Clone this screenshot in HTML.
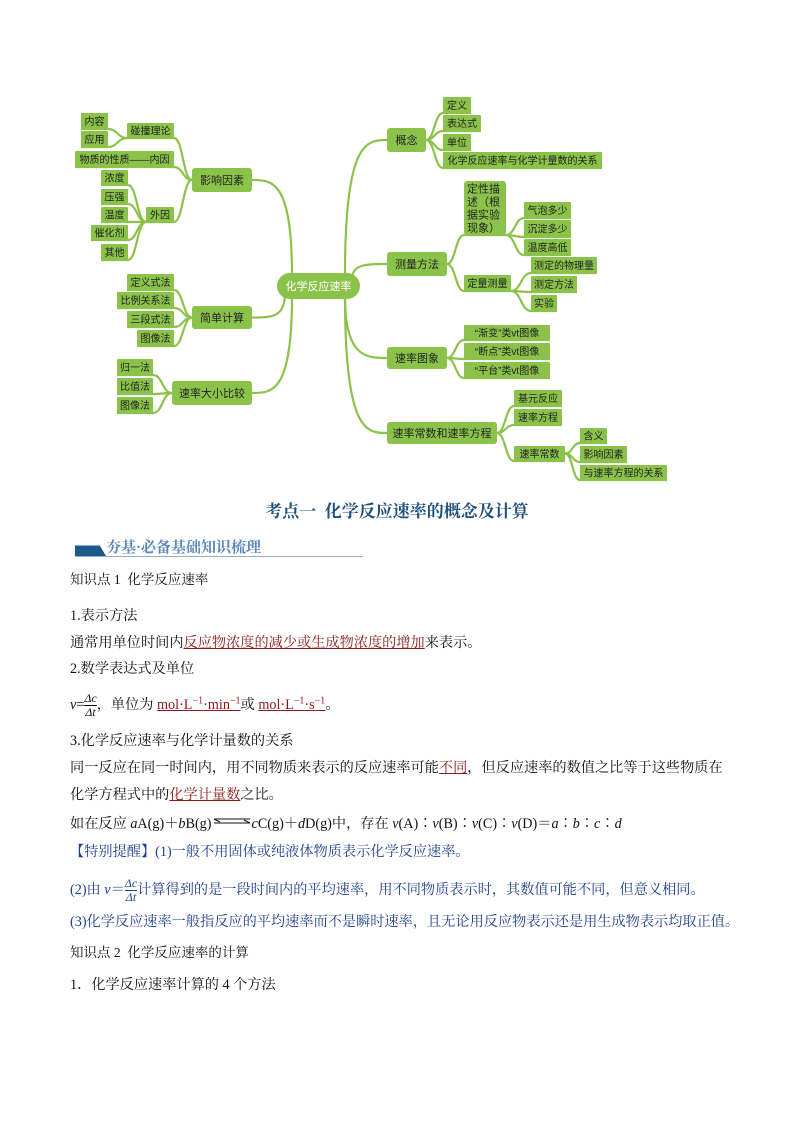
<!DOCTYPE html>
<html><head><meta charset="utf-8">
<style>
body{margin:0;background:#fff;}
#p{position:relative;width:794px;height:1123px;overflow:hidden;font-family:"Liberation Serif","Noto Serif CJK SC","Noto Sans CJK SC",serif;color:#111;}
svg{position:absolute;left:0;top:0;}
.t{position:absolute;left:70px;font-size:14.2px;white-space:nowrap;line-height:18px;}
.u{color:#8b1a1a;text-decoration:underline;}
.b{color:#1f3f8f;}
i{font-style:italic;}
sup{line-height:0;font-size:10px;}
.fr{display:inline-block;vertical-align:middle;text-align:center;font-style:italic;font-size:12px;line-height:13px;}
.fr span{display:block;}
.fr span:first-child{border-bottom:1px solid currentColor;}
</style></head><body><div id="p">
<svg id="mm" width="794" height="500" xmlns="http://www.w3.org/2000/svg"></svg>
<div style="position:absolute;left:0;width:794px;top:497px;text-align:center;font-size:17px;font-weight:bold;color:#1d4f7c;font-family:'Liberation Serif','Noto Serif CJK SC',serif;">考点一&nbsp; 化学反应速率的概念及计算</div>
<div style="position:absolute;left:75px;top:541px;width:31px;height:15px;background:#1d5a8c;clip-path:polygon(0 30%,80% 30%,100% 100%,0 100%);"></div>
<div style="position:absolute;left:106px;top:536px;font-size:15px;font-weight:bold;color:#5b86b8;font-family:'Noto Serif CJK SC',serif;">夯基·必备基础知识梳理</div>
<div style="position:absolute;left:75px;top:556px;width:288px;height:1px;background:#8fb0d0;"></div>
<div class="t" style="top:571px;font-size:13.5px">知识点 1&nbsp; 化学反应速率</div>
<div class="t" style="top:607px">1.表示方法</div>
<div class="t" style="top:634px">通常用单位时间内<span class="u">反应物浓度的减少或生成物浓度的增加</span>来表示。</div>
<div class="t" style="top:660px">2.数学表达式及单位</div>
<div class="t" style="top:692px"><i>v</i>=<span class="fr"><span>Δc</span><span>Δt</span></span>，单位为 <span class="u">mol·L<sup>−1</sup>·min<sup>−1</sup></span>或 <span class="u">mol·L<sup>−1</sup>·s<sup>−1</sup></span>。</div>
<div class="t" style="top:732px">3.化学反应速率与化学计量数的关系</div>
<div class="t" style="top:759px">同一反应在同一时间内，用不同物质来表示的反应速率可能<span class="u">不同</span>，但反应速率的数值之比等于这些物质在</div>
<div class="t" style="top:786px">化学方程式中的<span class="u">化学计量数</span>之比。</div>
<div class="t" style="top:815px">如在反应 <i>a</i>A(g)＋<i>b</i>B(g)<span style="display:inline-block;width:40px;position:relative;top:-3px;"><svg width="40" height="8" style="position:static"><path d="M2 2 H38 M2 6 H38 M38 6 L32 3 M2 2 L8 5" stroke="#111" fill="none" stroke-width="1"/></svg></span><i>c</i>C(g)＋<i>d</i>D(g)中，存在 <i>v</i>(A)∶<i>v</i>(B)∶<i>v</i>(C)∶<i>v</i>(D)＝<i>a</i>∶<i>b</i>∶<i>c</i>∶<i>d</i></div>
<div class="t b" style="top:843px">【特别提醒】(1)一般不用固体或纯液体物质表示化学反应速率。</div>
<div class="t b" style="top:877px">(2)由 <i>v</i>＝<span class="fr"><span>Δc</span><span>Δt</span></span>计算得到的是一段时间内的平均速率，用不同物质表示时，其数值可能不同，但意义相同。</div>
<div class="t b" style="top:913px">(3)化学反应速率一般指反应的平均速率而不是瞬时速率，且无论用反应物表示还是用生成物表示均取正值。</div>
<div class="t" style="top:944px;font-size:13.5px">知识点 2&nbsp; 化学反应速率的计算</div>
<div class="t" style="top:976px">1．化学反应速率计算的 4 个方法</div>
</div>
<script>
var N={
c:[277,273,360,299,"化学反应速率"],
gn:[387,128,426,152,"概念"],cl:[387,252,447,276,"测量方法"],tx:[387,347,447,369,"速率图象"],cs:[387,422,497,444,"速率常数和速率方程"],
dy:[443,97,471,113,"定义"],bd:[443,115,481,131,"表达式"],dw:[443,134,471,150,"单位"],gx:[443,152,602,168,"化学反应速率与化学计量数的关系"],
dx:[464,181,506,235,"定性描\n述（根\n据实验\n现象）"],dl:[464,275,511,291,"定量测量"],
qp:[524,202,571,218,"气泡多少"],cd:[524,220,571,237,"沉淀多少"],wd:[524,239,571,255,"温度高低"],
wl:[531,257,597,273,"测定的物理量"],ff:[531,276,577,292,"测定方法"],sy:[531,295,557,311,"实验"],
v1:[464,325,550,340,"“渐变”类vt图像"],v2:[464,343,550,359,"“断点”类vt图像"],v3:[464,362,550,378,"“平台”类vt图像"],
jy:[514,390,562,406,"基元反应"],fc:[514,409,562,425,"速率方程"],cs2:[514,446,565,461,"速率常数"],
hy:[580,428,607,443,"含义"],yx:[580,446,627,462,"影响因素"],gx2:[580,465,667,480,"与速率方程的关系"],
ys:[192,168,252,192,"影响因素"],js:[192,306,252,329,"简单计算"],bj:[172,381,252,405,"速率大小比较"],
pz:[127,123,174,138,"碰撞理论"],nr:[81,113,108,129,"内容"],yy:[81,131,108,147,"应用"],
xz:[75,151,174,167,"物质的性质——内因"],wy:[146,207,174,222,"外因"],
nd:[101,170,128,185,"浓度"],yq:[101,189,128,204,"压强"],wdu:[101,207,128,222,"温度"],ch:[91,225,128,240,"催化剂"],qt:[101,244,128,260,"其他"],
d1:[127,274,174,290,"定义式法"],d2:[117,292,174,308,"比例关系法"],d3:[127,311,174,327,"三段式法"],d4:[137,330,174,346,"图像法"],
g1:[117,359,153,375,"归一法"],g2:[117,378,153,394,"比值法"],g3:[117,397,153,413,"图像法"]};
var R={gn:["dy","bd","dw","gx"],cl:["dx","dl"],dx:["qp","cd","wd"],dl:["wl","ff","sy"],tx:["v1","v2","v3"],cs:["jy","fc","cs2"],cs2:["hy","yx","gx2"]};
var L={ys:["pz","xz","wy"],pz:["nr","yy"],wy:["nd","yq","wdu","ch","qt"],js:["d1","d2","d3","d4"],bj:["g1","g2","g3"]};
var s='',col='#8bc34a';
function p(d){s+='<path d="'+d+'" stroke="'+col+'" stroke-width="2.2" fill="none"/>';}
var c=N.c;
["gn","cl","tx","cs"].forEach(function(k){var n=N[k],ty=(n[1]+n[3])/2,sx=k=="cl"?355:345,sy=ty<286?c[1]+2:c[3]-2;if(k=="cl"){sx=c[2]-8;sy=c[1]+6;}p("M"+sx+" "+sy+" C"+sx+" "+(ty)+" "+(n[0]-20)+" "+ty+" "+n[0]+" "+ty);});
["ys","js","bj"].forEach(function(k){var n=N[k],ty=(n[1]+n[3])/2,sx=k=="js"?c[0]+8:292,sy=k=="js"?c[3]-6:(ty<286?c[1]+2:c[3]-2);p("M"+sx+" "+sy+" C"+sx+" "+ty+" "+(n[2]+20)+" "+ty+" "+n[2]+" "+ty);});
for(var k in R){var a=N[k],sy=(a[1]+a[3])/2,sx=a[2];if(k=="dx"){sy=a[3];}if(k=="dl"){sy=a[3];}R[k].forEach(function(q){var b=N[q],ty=b[3];var mx=sx+(b[0]-sx)/2;p("M"+sx+" "+sy+" C"+mx+" "+sy+" "+mx+" "+ty+" "+b[0]+" "+ty+" L"+b[2]+" "+ty);});}
for(var k in L){var a=N[k],sy=(a[1]+a[3])/2,sx=a[0];if(k=="wy"||k=="pz")sy=a[3];L[k].forEach(function(q){var b=N[q],ty=b[3];var mx=sx-(sx-b[2])/2;p("M"+sx+" "+sy+" C"+mx+" "+sy+" "+mx+" "+ty+" "+b[2]+" "+ty+" L"+b[0]+" "+ty);});}
for(var k in N){var n=N[k],w=n[2]-n[0],h=n[3]-n[1];var rx=k=="c"?13:(h>20?3:1);var fill=col,fc='#222';if(k=="c"){fc='#fff';}
s+='<rect x="'+n[0]+'" y="'+n[1]+'" width="'+w+'" height="'+h+'" rx="'+rx+'" fill="'+fill+'"/>';
var lines=n[4].split("\n");lines.forEach(function(t,i){var y=n[1]+h/2+4+(i-(lines.length-1)/2)*13;var x=lines.length>1?n[0]+3:n[0]+w/2;var an=lines.length>1?"start":"middle";
s+='<text x="'+x+'" y="'+y+'" font-size="'+(h>20?11:10)+'" text-anchor="'+an+'" fill="'+fc+'" font-family="Liberation Sans,Noto Sans CJK SC,sans-serif">'+t+'</text>';});}
document.getElementById('mm').innerHTML=s;
</script>
</body></html>
